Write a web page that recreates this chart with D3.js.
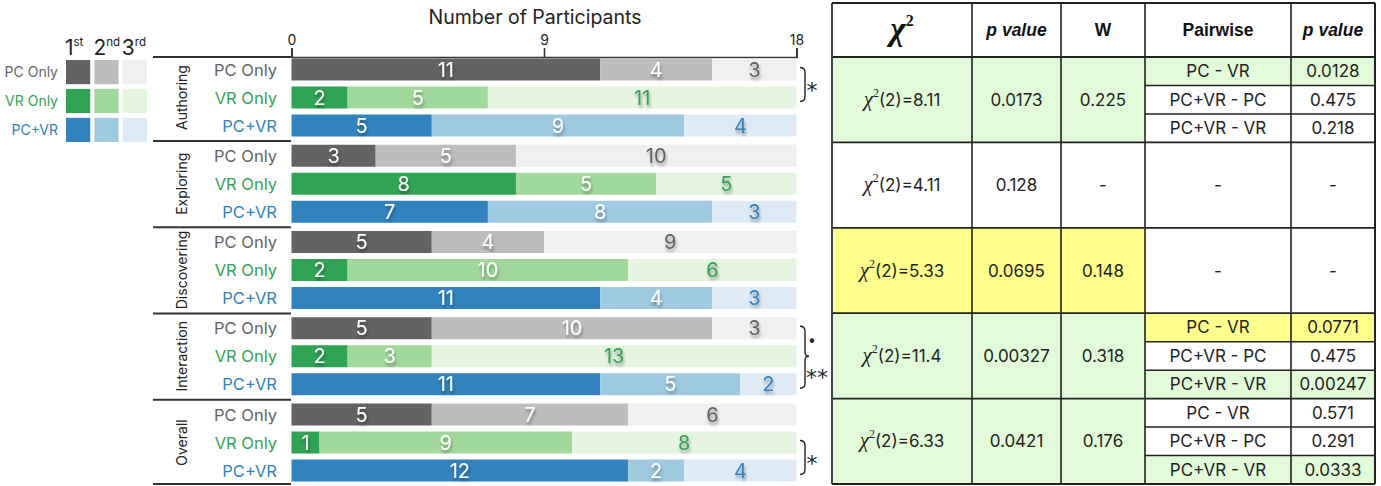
<!DOCTYPE html>
<html>
<head>
<meta charset="utf-8">
<script src="https://cdn.jsdelivr.net/npm/d3@7"></script>
<style>
  html, body { margin: 0; padding: 0; background: #fff; }
  svg { display: block; font-family: Inter, "Noto Sans", sans-serif; }
</style>
</head>
<body>
<svg id="chart" width="1381" height="486"></svg>
<script>
// ---------- data ----------
const tasks = ["Authoring", "Exploring", "Discovering", "Interaction", "Overall"];
const conditions = ["PC Only", "VR Only", "PC+VR"];
const ranks = ["1", "2", "3"];
const rankSuffix = ["st", "nd", "rd"];
const pcOnlyCounts = [[11, 4, 3], [3, 5, 10], [5, 4, 9], [5, 10, 3], [5, 7, 6]];
const vrOnlyCounts = [[2, 5, 11], [8, 5, 5], [2, 10, 6], [2, 3, 13], [1, 9, 8]];
const pcVrCounts = [[5, 9, 4], [7, 8, 3], [11, 4, 3], [11, 5, 2], [12, 2, 4]];
const xTicks = [0, 9, 18];
const xMax = 18;

// significance annotations next to the bars
const annotations = [
  { task: "Authoring", from: "PC Only", to: "VR Only", labels: ["*"] },
  { task: "Interaction", from: "PC Only", to: "PC+VR", mid: "VR Only", labels: ["•", "**"] },
  { task: "Overall", from: "VR Only", to: "PC+VR", labels: ["*"] }
];

// statistics table
const tableHeaders = ["χ2", "p value", "W", "Pairwise", "p value"];
const chiSquare = ["8.11", "4.11", "5.33", "11.4", "6.33"];
const pValues = ["0.0173", "0.128", "0.0695", "0.00327", "0.0421"];
const wValues = ["0.225", "-", "0.148", "0.318", "0.176"];
const rowSignificance = ["sig", "none", "trend", "sig", "sig"];
const pairwiseNames = [["PC - VR", "PC+VR - PC", "PC+VR - VR"], null, null,
  ["PC - VR", "PC+VR - PC", "PC+VR - VR"], ["PC - VR", "PC+VR - PC", "PC+VR - VR"]];
const pairwiseP = [["0.0128", "0.475", "0.218"], null, null,
  ["0.0771", "0.475", "0.00247"], ["0.571", "0.291", "0.0333"]];
const pairwiseSignificance = [["sig", "none", "none"], null, null,
  ["trend", "none", "sig"], ["none", "none", "sig"]];

// ---------- styles ----------
const palette = {
  "PC Only": ["#636363", "#bdbdbd", "#f0f0f0"],
  "VR Only": ["#31a354", "#a1d99b", "#e5f5e0"],
  "PC+VR": ["#3182bd", "#9ecae1", "#deebf7"]
};
const labelColor = { "PC Only": "#636363", "VR Only": "#31a354", "PC+VR": "#3182bd" };
const sigFill = { sig: "#e2fcd9", trend: "#ffff8c", none: "#ffffff" };
const countsByCondition = { "PC Only": pcOnlyCounts, "VR Only": vrOnlyCounts, "PC+VR": pcVrCounts };

const svg = d3.select("#chart");
const defs = svg.append("defs");
const f = defs.append("filter").attr("id", "shadow")
  .attr("x", "-50%").attr("y", "-50%").attr("width", "200%").attr("height", "200%");
f.append("feDropShadow").attr("dx", 1).attr("dy", 3).attr("stdDeviation", 1.6)
  .attr("flood-color", "#000").attr("flood-opacity", 0.35);

// ---------- scales ----------
const x = d3.scaleLinear().domain([0, xMax]).range([291.5, 796.5]);
const groupStep = 86.25;
const gY = d3.scaleBand().domain(tasks).range([58.5, 58.5 + groupStep * tasks.length]);
const rY = d3.scaleBand().domain(conditions).range([0, 78]).paddingInner(6 / 28).paddingOuter(0);

// ---------- axis ----------
const axis = svg.append("g").attr("transform", "translate(0,57)")
  .call(d3.axisTop(x).tickValues(xTicks).tickSize(9).tickPadding(3).tickSizeOuter(9));
axis.select(".domain").attr("stroke", "#333").attr("stroke-width", 1.6);
axis.selectAll(".tick line").attr("stroke", "#333").attr("stroke-width", 1.6);
axis.selectAll(".tick text").attr("font-family", "Inter, sans-serif").attr("font-size", 14).attr("fill", "#222");
svg.append("text").attr("x", 535).attr("y", 24).attr("text-anchor", "middle")
  .attr("font-size", 19.5).attr("fill", "#222").text("Number of Participants");

// ---------- bars ----------
tasks.forEach((task, ti) => {
  const g = svg.append("g").attr("transform", `translate(0,${gY(task)})`);
  conditions.forEach(cond => {
    const vals = countsByCondition[cond][ti];
    let acc = 0;
    const segs = vals.map((v, ri) => { const s = { v, ri, x0: acc, x1: acc + v }; acc += v; return s; });
    const y0 = rY(cond), h = rY.bandwidth();
    g.selectAll(null).data(segs).enter().append("rect")
      .attr("x", d => x(d.x0)).attr("y", y0)
      .attr("width", d => x(d.x1) - x(d.x0)).attr("height", h)
      .attr("fill", d => palette[cond][d.ri]);
    g.selectAll(null).data(segs).enter().append("text")
      .attr("x", d => (x(d.x0) + x(d.x1)) / 2).attr("y", y0 + h / 2 + 7)
      .attr("text-anchor", "middle").attr("font-size", 20)
      .attr("filter", "url(#shadow)")
      .attr("fill", d => d.ri === 2 ? labelColor[cond] : "#fff")
      .text(d => d.v);
    g.append("text").attr("x", 277).attr("y", y0 + h / 2 + 6)
      .attr("text-anchor", "end").attr("font-size", 16.5)
      .attr("fill", labelColor[cond]).text(cond);
  });
  g.append("text").attr("transform", `translate(187,${39}) rotate(-90)`)
    .attr("text-anchor", "middle").attr("font-size", 14).attr("fill", "#222").text(task);
  const sepY = Math.min(gY(task) + 82.5, 484);
  svg.append("line").attr("x1", 153).attr("x2", 291).attr("y1", sepY).attr("y2", sepY)
    .attr("stroke", "#333").attr("stroke-width", 2);
});
svg.append("line").attr("x1", 153).attr("x2", 291).attr("y1", 57).attr("y2", 57)
  .attr("stroke", "#333").attr("stroke-width", 2);

// ---------- significance brackets ----------
const bx = 800, bw = 5;
const star = (xp, yc, txt) => svg.append("text").attr("x", xp).attr("y", yc + 13).attr("text-anchor", "middle")
  .attr("font-family", "DejaVu Sans").attr("font-size", 22).attr("fill", "#222").text(txt);
annotations.forEach(a => {
  const base = gY(a.task);
  const ya = base + rY(a.from) + rY.bandwidth() / 2 - 2;
  const yb = base + rY(a.to) + rY.bandwidth() / 2 + 4;
  let p;
  if (a.mid) {
    const ym = base + rY(a.mid) + rY.bandwidth() / 2;
    p = `M${bx},${ya} Q${bx + bw},${ya} ${bx + bw},${ya + 5} L${bx + bw},${ym - 4} Q${bx + bw},${ym} ${bx + bw + 4},${ym} Q${bx + bw},${ym} ${bx + bw},${ym + 4} L${bx + bw},${yb - 5} Q${bx + bw},${yb} ${bx},${yb}`;
    const yUp = (ya + ym) / 2, yDn = (ym + yb) / 2;
    svg.append("text").attr("x", 812).attr("y", yUp + 6).attr("text-anchor", "middle")
      .attr("font-family", "DejaVu Sans").attr("font-size", 15).attr("fill", "#222").text(a.labels[0]);
    star(817, yDn, a.labels[1]);
  } else {
    p = `M${bx},${ya} Q${bx + bw},${ya} ${bx + bw},${ya + 5} L${bx + bw},${yb - 5} Q${bx + bw},${yb} ${bx},${yb}`;
    star(812, (ya + yb) / 2, a.labels[0]);
  }
  svg.append("path").attr("d", p).attr("fill", "none").attr("stroke", "#222").attr("stroke-width", 1.4);
});

// ---------- legend ----------
const lg = svg.append("g");
const lx = d3.scaleBand().domain(ranks).range([66, 147]).paddingInner(4 / 27).paddingOuter(0);
const ly = d3.scaleBand().domain(conditions).range([60, 142]).paddingInner(4.5 / 27.5).paddingOuter(0);
ranks.forEach((r, i) => {
  const t = lg.append("text").attr("x", lx(r) - 1).attr("y", 55).attr("fill", "#222");
  t.append("tspan").attr("font-size", 21).text(r);
  t.append("tspan").attr("font-size", 11.5).attr("dy", -9).text(rankSuffix[i]);
});
conditions.forEach(cond => {
  ranks.forEach((r, i) => {
    lg.append("rect").attr("x", lx(r)).attr("y", ly(cond))
      .attr("width", lx.bandwidth()).attr("height", ly.bandwidth()).attr("fill", palette[cond][i]);
  });
  lg.append("text").attr("x", 58).attr("y", ly(cond) + ly.bandwidth() / 2 + 5)
    .attr("text-anchor", "end").attr("font-size", 14).attr("fill", labelColor[cond]).text(cond);
});

// ---------- table ----------
const colEdges = [832, 972, 1061, 1145, 1291, 1375];
const tTop = 3, hBottom = 57, tBottom = 484;
const tRow = d3.scaleBand().domain(tasks).range([hBottom, tBottom]);
const sub = d3.scaleBand().domain([0, 1, 2]).range([0, tRow.bandwidth()]);
const tg = svg.append("g");
const cx = i => (colEdges[i] + colEdges[i + 1]) / 2;

tg.append("rect").attr("x", colEdges[0]).attr("y", tTop).attr("width", colEdges[5] - colEdges[0])
  .attr("height", hBottom - tTop).attr("fill", "#fff");

tasks.forEach((task, i) => {
  const y0 = tRow(task), h = tRow.bandwidth();
  const fillMain = sigFill[rowSignificance[i]];
  [0, 1, 2].forEach(c => {
    tg.append("rect").attr("x", colEdges[c]).attr("y", y0).attr("width", colEdges[c + 1] - colEdges[c])
      .attr("height", h).attr("fill", fillMain);
  });
  const cy = y0 + h / 2 + 6;
  const chi = tg.append("text").attr("x", cx(0)).attr("y", cy).attr("text-anchor", "middle").attr("fill", "#222");
  chi.append("tspan").attr("font-family", "Liberation Serif").attr("font-style", "italic").attr("font-size", 21).text("χ");
  chi.append("tspan").attr("font-family", "Liberation Serif").attr("font-size", 12).attr("dy", -9).text("2");
  chi.append("tspan").attr("font-size", 17).attr("dy", 9).text(`(2)=${chiSquare[i]}`);
  tg.append("text").attr("x", cx(1)).attr("y", cy).attr("text-anchor", "middle").attr("font-size", 17).attr("fill", "#222").text(pValues[i]);
  tg.append("text").attr("x", cx(2)).attr("y", cy).attr("text-anchor", "middle").attr("font-size", 17).attr("fill", "#222").text(wValues[i]);
  if (pairwiseNames[i]) {
    pairwiseNames[i].forEach((name, k) => {
      const sy = y0 + sub(k), sh = sub.bandwidth();
      const fl = sigFill[pairwiseSignificance[i][k]];
      tg.append("rect").attr("x", colEdges[3]).attr("y", sy).attr("width", colEdges[4] - colEdges[3]).attr("height", sh).attr("fill", fl);
      tg.append("rect").attr("x", colEdges[4]).attr("y", sy).attr("width", colEdges[5] - colEdges[4]).attr("height", sh).attr("fill", fl);
      tg.append("text").attr("x", cx(3)).attr("y", sy + sh / 2 + 6).attr("text-anchor", "middle").attr("font-size", 17).attr("fill", "#222").text(name);
      tg.append("text").attr("x", cx(4)).attr("y", sy + sh / 2 + 6).attr("text-anchor", "middle").attr("font-size", 17).attr("fill", "#222").text(pairwiseP[i][k]);
      if (k > 0) {
        tg.append("line").attr("x1", colEdges[3]).attr("x2", colEdges[5]).attr("y1", sy).attr("y2", sy)
          .attr("stroke", "#222").attr("stroke-width", 1.5);
      }
    });
  } else {
    tg.append("text").attr("x", cx(3)).attr("y", cy).attr("text-anchor", "middle").attr("font-size", 17).attr("fill", "#222").text("-");
    tg.append("text").attr("x", cx(4)).attr("y", cy).attr("text-anchor", "middle").attr("font-size", 17).attr("fill", "#222").text("-");
  }
  tg.append("line").attr("x1", colEdges[0]).attr("x2", colEdges[5]).attr("y1", y0).attr("y2", y0)
    .attr("stroke", "#222").attr("stroke-width", 1.8);
});

// header
const hy = (tTop + hBottom) / 2;
const chiH = tg.append("text").attr("x", cx(0)).attr("y", hy + 10).attr("text-anchor", "middle").attr("fill", "#111");
chiH.append("tspan").attr("font-family", "Liberation Serif").attr("font-style", "italic").attr("font-weight", "bold").attr("font-size", 33).text("χ");
chiH.append("tspan").attr("font-family", "Liberation Serif").attr("font-weight", "bold").attr("font-size", 16).attr("dy", -14).text("2");
[1, 2, 3, 4].forEach(c => {
  tg.append("text").attr("x", cx(c)).attr("y", hy + 6).attr("text-anchor", "middle")
    .attr("font-family", "Liberation Sans, Arial, sans-serif").attr("font-weight", "bold")
    .attr("font-style", (c === 1 || c === 4) ? "italic" : "normal")
    .attr("font-size", 17.5).attr("fill", "#111").text(tableHeaders[c]);
});

// grid lines
colEdges.forEach((ex, i) => {
  tg.append("line").attr("x1", ex).attr("x2", ex).attr("y1", tTop).attr("y2", tBottom)
    .attr("stroke", i === 0 ? "#444" : "#222").attr("stroke-width", (i === 0 || i === 5) ? 2 : 1.6);
});
tg.append("line").attr("x1", colEdges[0]).attr("x2", colEdges[5]).attr("y1", tTop).attr("y2", tTop).attr("stroke", "#222").attr("stroke-width", 2);
tg.append("line").attr("x1", colEdges[0]).attr("x2", colEdges[5]).attr("y1", tBottom).attr("y2", tBottom).attr("stroke", "#222").attr("stroke-width", 2);
</script>
</body>
</html>
